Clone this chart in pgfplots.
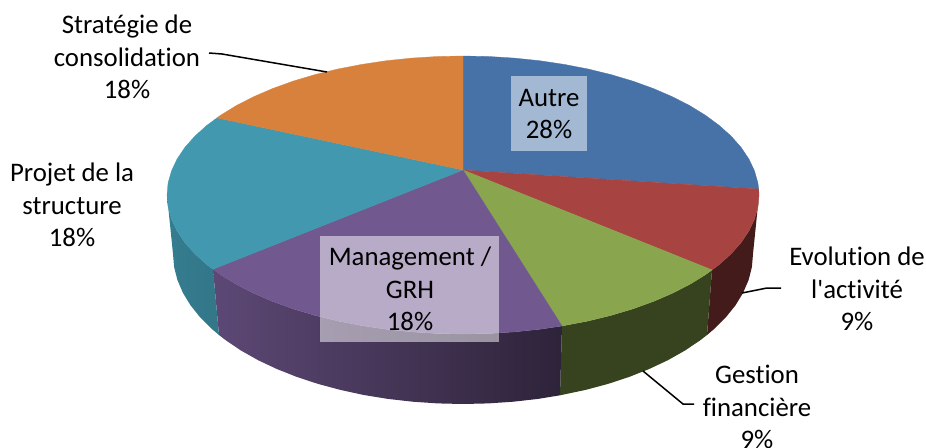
\documentclass[border=0pt]{standalone}
\usepackage{pgfplots}
\pgfplotsset{compat=1.18}
\usepackage{fontspec}
\setmainfont[Ligatures=NoCommon]{Carlito}
\definecolor{cblue}{HTML}{4672A8}
\definecolor{cred}{HTML}{A74442}
\definecolor{cgreen}{HTML}{89A54E}
\definecolor{cpurple}{HTML}{71588F}
\definecolor{cteal}{HTML}{4198AF}
\definecolor{corange}{HTML}{D7813C}
\tikzset{lbl/.style={font=\fontsize{26.8}{32.5}\selectfont, align=center, text=black, inner sep=0pt}}
\begin{document}
\begin{tikzpicture}
\begin{axis}[
  scale only axis, width=926pt, height=447pt,
  xmin=0, xmax=926, ymin=0, ymax=447, y dir=reverse,
  hide axis, clip=false
]
% ---- side walls ----
\addplot[fill=cred!40!black, draw=none] coordinates {
 (712,270)(719.3,264.5)(731.3,253.7)(741.2,242.5)(748.9,231)(754.5,219.1)(757.9,207.1)(759,195)
 (753,254)(751.9,267.1)(748.6,280)(743.1,292.8)(735.5,305.3)(725.8,317.4)(714.1,329)(707,335)} -- cycle;
\addplot[fill=cgreen!40!black, draw=none] coordinates {
 (712,270)(705.5,274.7)(689.7,284.4)(672.3,293.3)(653.3,301.5)(632.8,308.9)(611,315.4)(588.1,321)(562,326)
 (560,395.3)(585.6,389.9)(608,383.9)(629.3,376.9)(649.4,368.9)(668.1,360.1)(685.2,350.4)(700.6,340)(707,335)} -- cycle;
\addplot[left color=cpurple!82!black, right color=cpurple!40!black, draw=none] coordinates {
 (562,326)(539.6,329.3)(514.4,331.9)(488.8,333.5)(463,334)(437.2,333.5)(411.6,331.9)(386.4,329.3)(361.8,325.6)
 (337.9,321)(315,315.4)(293.2,308.9)(272.7,301.5)(253.7,293.3)(236.3,284.4)(220.5,274.7)(213,269.2)
 (219,335)(225.4,340)(240.8,350.4)(257.9,360.1)(276.6,368.9)(296.7,376.9)(318,383.9)(340.4,389.9)(363.8,395)
 (387.9,398.9)(412.6,401.7)(437.7,403.4)(463,404)(488.3,403.4)(513.4,401.7)(538.1,398.9)(560,395.3)} -- cycle;
\addplot[left color=cteal!82!black, right color=cteal!78!black, draw=none] coordinates {
 (213,269.2)(206.7,264.5)(194.7,253.7)(184.8,242.5)(177.1,231)(171.5,219.1)(168.1,207.1)(167,195)
 (173,254)(174.1,267.1)(177.4,280)(182.9,292.8)(190.5,305.3)(200.2,317.4)(211.9,329)(219,335)} -- cycle;
% ---- top faces ----
\addplot[fill=cblue, draw=cblue, line width=0.3pt] coordinates {
 (463,170)(463,56)(488.8,56.5)(514.4,58.1)(539.6,60.7)(564.2,64.4)(588.1,69)(611,74.6)(632.8,81.1)(653.3,88.5)
 (672.3,96.7)(689.7,105.6)(705.5,115.3)(719.3,125.5)(731.3,136.3)(741.2,147.5)(748.9,159)(754.5,170.9)(757.9,182.9)(758.7,189)} -- cycle;
\addplot[fill=cred, draw=cred, line width=0.3pt] coordinates {
 (463,170)(758.7,189)(759,195)(757.9,207.1)(754.5,219.1)(748.9,231)(741.2,242.5)(731.3,253.7)(719.3,264.5)(712,269.9)} -- cycle;
\addplot[fill=cgreen, draw=cgreen, line width=0.3pt] coordinates {
 (463,170)(712,269.9)(705.5,274.7)(689.7,284.4)(672.3,293.3)(653.3,301.5)(632.8,308.9)(611,315.4)(588.1,321)(562,326)} -- cycle;
\addplot[fill=cpurple, draw=cpurple, line width=0.3pt] coordinates {
 (463,170)(562,326)(539.6,329.3)(514.4,331.9)(488.8,333.5)(463,334)(437.2,333.5)(411.6,331.9)(386.4,329.3)(361.8,325.6)
 (337.9,321)(315,315.4)(293.2,308.9)(272.7,301.5)(253.7,293.3)(236.3,284.4)(220.5,274.7)(213,269.2)} -- cycle;
\addplot[fill=cteal, draw=cteal, line width=0.3pt] coordinates {
 (463,170)(213,269.2)(206.7,264.5)(194.7,253.7)(184.8,242.5)(177.1,231)(171.5,219.1)(168.1,207.1)(167,195)
 (168.1,182.9)(171.5,170.9)(177.1,159)(184.8,147.5)(194.7,136.3)(206.7,125.5)(217,117.9)} -- cycle;
\addplot[fill=corange, draw=corange, line width=0.3pt] coordinates {
 (463,170)(217,117.9)(220.5,115.3)(236.3,105.6)(253.7,96.7)(272.7,88.5)(293.2,81.1)(315,74.6)(337.9,69)(361.8,64.4)
 (386.4,60.7)(411.6,58.1)(437.2,56.5)(463,56)} -- cycle;
% ---- label boxes ----
\addplot[fill=white, fill opacity=0.5, draw=none] coordinates {(511,76)(587,76)(587,151)(511,151)} -- cycle;
\addplot[fill=white, fill opacity=0.5, draw=none] coordinates {(320,236)(499,236)(499,342)(320,342)} -- cycle;
% ---- leader lines ----
\addplot[black, line width=1.5pt] coordinates {(209,53)(222,54)(327,72)};
\addplot[black, line width=1.5pt] coordinates {(742,293)(767,288)(781,288)};
\addplot[black, line width=1.5pt] coordinates {(643,371)(683,404)(694,404)};
% ---- labels ----
\node[lbl] at (127,57) {Stratégie de\\consolidation\\18\%};
\node[lbl] at (72,205) {Projet de la\\structure\\18\%};
\node[lbl] at (549,114) {Autre\\28\%};
\node[lbl] at (410,289) {Management /\\GRH\\18\%};
\node[lbl] at (857,289) {Evolution de\\l\textquotesingle activité\\9\%};
\node[lbl] at (757,407) {Gestion\\financière\\9\%};
\end{axis}
\pgfresetboundingbox
\useasboundingbox (current axis.south west) rectangle (current axis.north east);
\end{tikzpicture}
\end{document}
